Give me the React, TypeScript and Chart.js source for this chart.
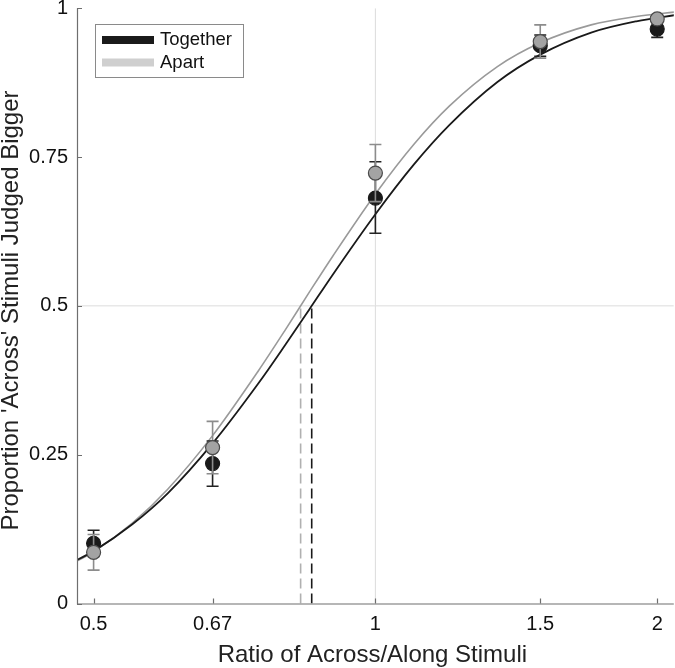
import React, { useEffect, useRef } from "react";
import { Chart, registerables } from "chart.js";

Chart.register(...registerables);

// ---- data ----
const seriesLabels = ["Together", "Apart"];
const ratioValues = [0.5, 0.67, 1, 1.5, 2];

const togetherMean = [0.101, 0.235, 0.681, 0.937, 0.965];
const togetherLow = [0.079, 0.197, 0.622, 0.919, 0.951];
const togetherHigh = [0.123, 0.273, 0.742, 0.955, 0.979];

const apartMean = [0.086, 0.262, 0.723, 0.944, 0.982];
const apartLow = [0.056, 0.218, 0.675, 0.916, 0.975];
const apartHigh = [0.116, 0.306, 0.771, 0.972, 0.989];

const fitRatios = [0.47, 0.5, 0.55, 0.6, 0.67, 0.75, 0.8, 0.85, 0.9, 1, 1.1, 1.2, 1.35, 1.5, 1.7, 1.9, 2.1];
const togetherFit = [0.066, 0.088, 0.133, 0.185, 0.269, 0.37, 0.433, 0.494, 0.552, 0.654, 0.738, 0.804, 0.876, 0.922, 0.959, 0.978, 0.989];
const apartFit = [0.064, 0.087, 0.135, 0.192, 0.282, 0.391, 0.458, 0.523, 0.583, 0.688, 0.772, 0.836, 0.902, 0.942, 0.972, 0.986, 0.994];

const togetherPSE = 0.855;
const apartPSE = 0.832;
const pseLevel = [0, 0.5];

const xTickValues = [0.5, 0.67, 1, 1.5, 2];
const xTickLabels = ["0.5", "0.67", "1", "1.5", "2"];
const yTickValues = [0, 0.25, 0.5, 0.75, 1];
const yTickLabels = ["0", "0.25", "0.5", "0.75", "1"];
const xRange = [0.48, 2.0833];
const yRange = [0, 1];
const refX = 1;
const refY = 0.5;

const xTitle = "Ratio of Across/Along Stimuli";
const yTitle = "Proportion 'Across' Stimuli Judged Bigger";

// ---- styles ----
const FONT = "'Liberation Sans', Arial, Helvetica, sans-serif";
const BLACK = "#1a1a1a";
const GRAY_LINE = "#9a9a9a";
const GRAY_FILL = "#a3a3a3";
const GRAY_ERR = "#8c8c8c";
const LEGEND_GRAY = "#cfcfcf";
const AXIS = "#6e6e6e";
const REF = "#dcdcdc";
const CANVAS_W = 682; // 7px overflow hidden on the right so the axis reaches the page edge
const CANVAS_H = 668;

const errorBarPlugin = {
  id: "errorBars",
  beforeDatasetDraw(chart: any, args: any) {
    const ds: any = chart.data.datasets[args.index];
    if (!ds.errLow) return;
    const { ctx } = chart;
    const x = chart.scales.x;
    const y = chart.scales.y;
    ctx.save();
    ctx.strokeStyle = ds.errColor;
    ctx.lineWidth = 1.6;
    ds.data.forEach((p: any, i: number) => {
      const px = x.getPixelForValue(p.x);
      const yl = y.getPixelForValue(ds.errLow[i]);
      const yh = y.getPixelForValue(ds.errHigh[i]);
      ctx.beginPath();
      ctx.moveTo(px, yl);
      ctx.lineTo(px, yh);
      ctx.moveTo(px - 6, yl);
      ctx.lineTo(px + 6, yl);
      ctx.moveTo(px - 6, yh);
      ctx.lineTo(px + 6, yh);
      ctx.stroke();
    });
    ctx.restore();
  },
};

const decorPlugin = {
  id: "decor",
  afterDraw(chart: any) {
    const { ctx, chartArea } = chart;
    const x = chart.scales.x;
    const y = chart.scales.y;
    ctx.save();
    // axes
    ctx.strokeStyle = AXIS;
    ctx.lineWidth = 1.2;
    ctx.beginPath();
    ctx.moveTo(chartArea.left + 0.5, chartArea.top);
    ctx.lineTo(chartArea.left + 0.5, chartArea.bottom + 0.5);
    ctx.lineTo(chartArea.right, chartArea.bottom + 0.5);
    ctx.stroke();
    // inward ticks
    ctx.beginPath();
    xTickValues.forEach((v) => {
      const px = Math.round(x.getPixelForValue(v)) + 0.5;
      ctx.moveTo(px, chartArea.bottom);
      ctx.lineTo(px, chartArea.bottom - 5);
    });
    yTickValues.forEach((v) => {
      const py = Math.round(y.getPixelForValue(v)) + 0.5;
      ctx.moveTo(chartArea.left, py);
      ctx.lineTo(chartArea.left + 5, py);
    });
    ctx.stroke();

    // legend
    const lx = 95.5, ly = 24.5, lw = 148, lh = 53;
    ctx.fillStyle = "#ffffff";
    ctx.fillRect(lx, ly, lw, lh);
    ctx.strokeStyle = "#8a8a8a";
    ctx.lineWidth = 1;
    ctx.strokeRect(lx, ly, lw, lh);
    const legendColors = [BLACK, LEGEND_GRAY];
    const rows = [40, 62.5];
    ctx.font = `18.5px ${FONT}`;
    ctx.textBaseline = "middle";
    ctx.textAlign = "left";
    seriesLabels.forEach((lab, i) => {
      ctx.strokeStyle = legendColors[i];
      ctx.lineWidth = 8;
      ctx.beginPath();
      ctx.moveTo(102, rows[i]);
      ctx.lineTo(154, rows[i]);
      ctx.stroke();
      ctx.fillStyle = "#111";
      ctx.fillText(lab, 160, rows[i]);
    });

    // titles
    ctx.fillStyle = "#222";
    ctx.font = `24px ${FONT}`;
    ctx.textAlign = "center";
    ctx.textBaseline = "alphabetic";
    ctx.fillText(xTitle, (chartArea.left + chartArea.right) / 2 - 3, 662);
    ctx.translate(18, 310.5);
    ctx.rotate(-Math.PI / 2);
    ctx.fillText(yTitle, 0, 0);
    ctx.restore();
  },
};

const toPts = (xs: number[], ys: number[]) => xs.map((v, i) => ({ x: v, y: ys[i] }));

export default function App() {
  const ref = useRef<HTMLCanvasElement | null>(null);

  useEffect(() => {
    document.body.style.margin = "0";
    document.body.style.overflow = "hidden";
    const canvas = ref.current;
    if (!canvas) return;
    const chart = new Chart(canvas, {
      type: "scatter",
      data: {
        datasets: [
          {
            label: seriesLabels[1],
            data: toPts(ratioValues, apartMean),
            showLine: false,
            pointRadius: 7,
            pointBackgroundColor: GRAY_FILL,
            pointBorderColor: "#4a4a4a",
            pointBorderWidth: 1.2,
            errLow: apartLow,
            errHigh: apartHigh,
            errColor: GRAY_ERR,
            order: 0,
          } as any,
          {
            label: seriesLabels[0],
            data: toPts(ratioValues, togetherMean),
            showLine: false,
            pointRadius: 7,
            pointBackgroundColor: BLACK,
            pointBorderColor: BLACK,
            pointBorderWidth: 1.2,
            errLow: togetherLow,
            errHigh: togetherHigh,
            errColor: "#222",
            order: 1,
          } as any,
          {
            label: "Together fit",
            data: toPts(fitRatios, togetherFit),
            showLine: true,
            pointRadius: 0,
            borderColor: BLACK,
            borderWidth: 1.8,
            cubicInterpolationMode: "monotone",
            order: 2,
          },
          {
            label: "Apart fit",
            data: toPts(fitRatios, apartFit),
            showLine: true,
            pointRadius: 0,
            borderColor: GRAY_LINE,
            borderWidth: 1.6,
            cubicInterpolationMode: "monotone",
            order: 3,
          },
          {
            label: "Together PSE",
            data: pseLevel.map((v) => ({ x: togetherPSE, y: v })),
            showLine: true,
            pointRadius: 0,
            borderColor: BLACK,
            borderWidth: 1.6,
            borderDash: [10, 5],
            order: 4,
          },
          {
            label: "Apart PSE",
            data: pseLevel.map((v) => ({ x: apartPSE, y: v })),
            showLine: true,
            pointRadius: 0,
            borderColor: "#b0b0b0",
            borderWidth: 1.6,
            borderDash: [10, 5],
            order: 5,
          },
          {
            label: "ref x",
            data: yRange.map((v) => ({ x: refX, y: v })),
            showLine: true,
            pointRadius: 0,
            borderColor: REF,
            borderWidth: 1,
            order: 6,
          },
          {
            label: "ref y",
            data: xRange.map((v) => ({ x: v, y: refY })),
            showLine: true,
            pointRadius: 0,
            borderColor: REF,
            borderWidth: 1,
            order: 7,
          },
        ],
      },
      options: {
        animation: false,
        responsive: false,
        devicePixelRatio: 1,
        layout: { padding: { top: 5, left: 0, right: 0, bottom: 0 } },
        plugins: {
          legend: { display: false },
          tooltip: { enabled: false },
          title: { display: false },
        },
        scales: {
          x: {
            type: "logarithmic",
            min: xRange[0],
            max: xRange[1],
            grid: { display: false, drawTicks: false },
            border: { display: false },
            ticks: {
              autoSkip: false,
              maxRotation: 0,
              padding: 9,
              color: "#111",
              font: { family: FONT, size: 20 },
              callback: (_v: any, i: number) => xTickLabels[i],
            },
            afterBuildTicks: (scale: any) => {
              scale.ticks = xTickValues.map((v) => ({ value: v }));
            },
            afterFit: (scale: any) => {
              scale.height = 64.5;
              scale.paddingLeft = 0;
              scale.paddingRight = 0;
            },
          },
          y: {
            type: "linear",
            min: yRange[0],
            max: yRange[1],
            grid: { display: false, drawTicks: false },
            border: { display: false },
            ticks: {
              padding: 9,
              color: "#111",
              font: { family: FONT, size: 20 },
              callback: (_v: any, i: number) => yTickLabels[i],
            },
            afterBuildTicks: (scale: any) => {
              scale.ticks = yTickValues.map((v) => ({ value: v }));
            },
            afterFit: (scale: any) => {
              scale.width = 77;
              scale.paddingTop = 0;
              scale.paddingBottom = 0;
            },
          },
        },
      },
      plugins: [errorBarPlugin, decorPlugin],
    } as any);
    return () => chart.destroy();
  }, []);

  return (
    <div style={{ position: "absolute", left: 0, top: 0, width: 675, height: 668, overflow: "hidden", background: "#fff" }}>
      <canvas ref={ref} width={CANVAS_W} height={CANVAS_H} style={{ display: "block" }} />
    </div>
  );
}
